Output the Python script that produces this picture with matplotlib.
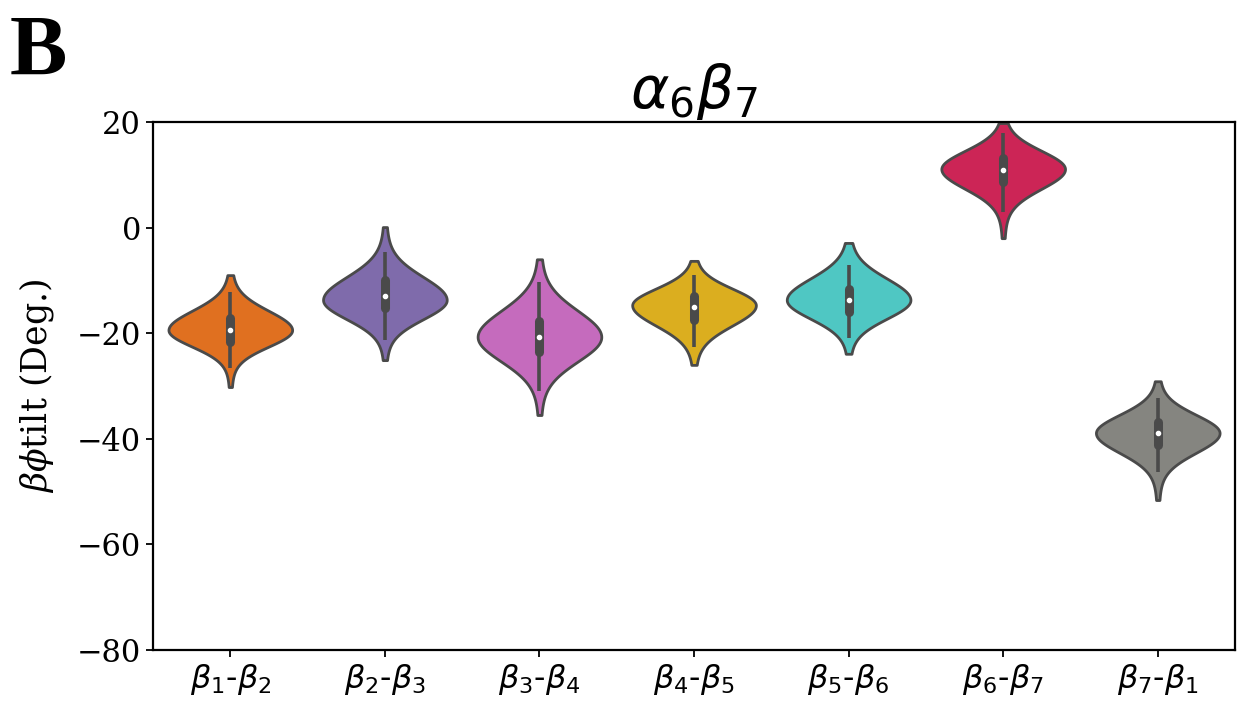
import numpy as np
import matplotlib.pyplot as plt

# pair labels along the x axis
pairs = [r'$\beta_1$-$\beta_2$', r'$\beta_2$-$\beta_3$', r'$\beta_3$-$\beta_4$',
         r'$\beta_4$-$\beta_5$', r'$\beta_5$-$\beta_6$', r'$\beta_6$-$\beta_7$',
         r'$\beta_7$-$\beta_1$']
colors = ['#e07020', '#7f6bab', '#c56bbd', '#dbae1f', '#4fc7c3', '#cc2556', '#858580']

# tilt summary per pair (deg.)
medians = [-19.4, -13.0, -20.7, -15.1, -13.7, 10.9, -38.9]
modes = [-19.4, -13.7, -20.7, -14.7, -13.7, 11.1, -38.9]
q1 = [-21.7, -15.2, -23.6, -17.5, -16.0, 8.6, -41.2]
q3 = [-17.1, -9.9, -17.7, -12.9, -11.7, 13.2, -36.8]
whisk_lo = [-26.6, -21.3, -31.0, -22.6, -20.9, 3.0, -46.3]
whisk_hi = [-12.2, -4.6, -10.3, -9.0, -7.1, 18.0, -32.3]
mins = [-30.2, -25.1, -35.5, -26.0, -23.9, -2.0, -51.6]
maxs = [-9.0, 0.1, -6.0, -6.3, -2.9, 19.8, -29.1]
spread_up = [3.6, 4.3, 4.9, 3.1, 4.0, 3.4, 3.4]
spread_down = [3.1, 3.6, 4.6, 3.8, 3.5, 3.7, 3.7]

edge = '#4a4a4a'

fig = plt.figure(figsize=(12.41, 7.02), dpi=100)
ax = fig.add_axes([0.1233, 0.0741, 0.8719, 0.7521])

# density profiles for each violin
vpstats = []
for i in range(len(pairs)):
    y = np.linspace(mins[i], maxs[i], 400)
    d = y - modes[i]
    s = np.where(d > 0, spread_up[i], spread_down[i])
    dens = 0.93 * np.exp(-0.5 * (d / s) ** 2) + 0.07 * np.exp(-0.5 * (d / (2.4 * s)) ** 2)
    vpstats.append(dict(coords=y, vals=dens, mean=medians[i], median=medians[i],
                        min=mins[i], max=maxs[i]))

pos = np.arange(len(pairs))
parts = ax.violin(vpstats, positions=pos, widths=0.8,
                  showmeans=False, showextrema=False, showmedians=False)
for body, c in zip(parts['bodies'], colors):
    body.set_facecolor(c)
    body.set_edgecolor(edge)
    body.set_linewidth(2.0)
    body.set_alpha(1)

# inner box: whiskers, quartile bar and median dot
ax.vlines(pos, whisk_lo, whisk_hi, color=edge, lw=2.6, zorder=3)
ax.vlines(pos, q1, q3, color=edge, lw=6.5, zorder=3, capstyle='round')
ax.scatter(pos, medians, s=9, color='white', zorder=4)

ax.set_xlim(-0.5, 6.5)
ax.set_ylim(-80, 20)
ax.set_yticks([20, 0, -20, -40, -60, -80])
ax.set_xticks(pos)
ax.set_xticklabels(pairs)
ax.tick_params(axis='y', labelsize=22, width=1.3, length=5)
ax.tick_params(axis='x', labelsize=23, width=1.3, length=5)
for lab in ax.get_yticklabels():
    lab.set_family('DejaVu Serif')
for sp in ax.spines.values():
    sp.set_linewidth(1.6)

ax.set_ylabel(r'$\beta\phi$tilt (Deg.)', fontsize=25, family='DejaVu Serif',
              math_fontfamily='dejavuserif', labelpad=15)
ax.set_title(r'$\alpha_6\beta_7$', fontsize=42, pad=2)

fig.text(0.008, 0.893, 'B', fontsize=62, fontweight='bold',
         family='Liberation Serif', va='baseline')

fig.savefig('out.png', dpi=100)
